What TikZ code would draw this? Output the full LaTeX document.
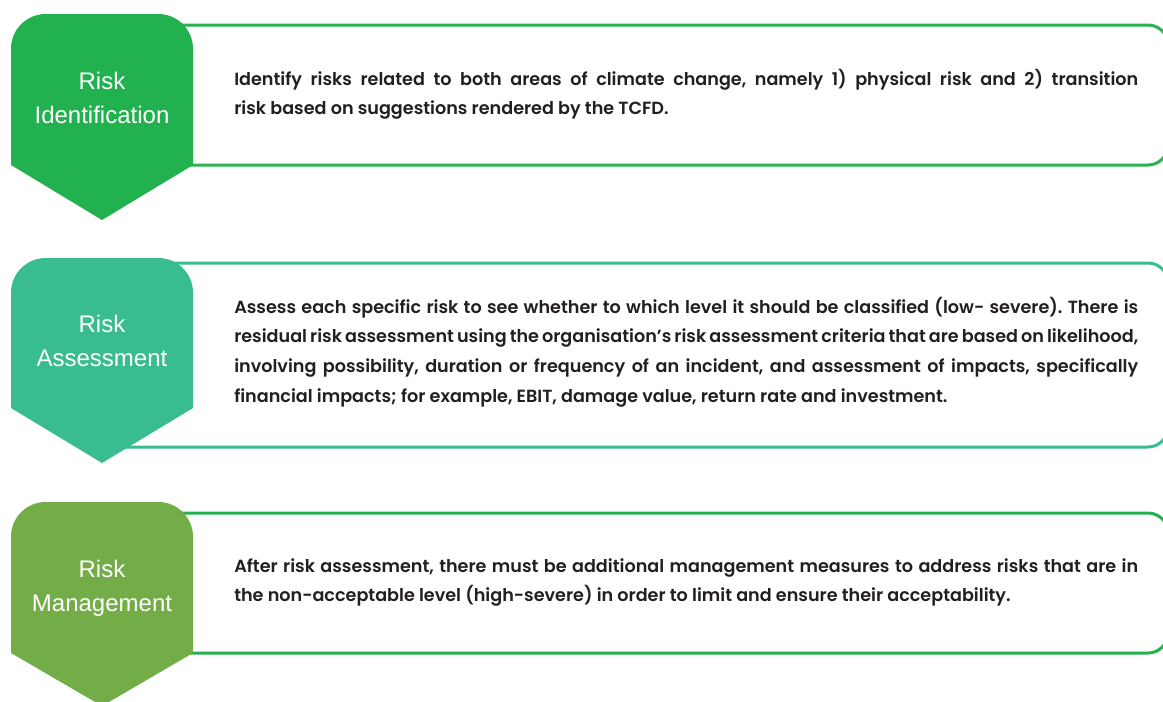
\documentclass[tikz,border=0pt]{standalone}
\usepackage{fontspec}
\usepackage{tikz}
\usetikzlibrary{positioning,calc}
\newfontfamily\headfont{Liberation Sans}
\newfontfamily\bodyfont{Poppins SemiBold}
\frenchspacing
\definecolor{greenid}{HTML}{21B14E}
\definecolor{greenidline}{HTML}{2BB24F}
\definecolor{tealassess}{HTML}{39BC8E}
\definecolor{olivemanage}{HTML}{72AD47}
\definecolor{greenmanageline}{HTML}{22B14C}
\definecolor{bodytext}{HTML}{231F20}
\tikzset{
  % Step banners (pentagon arrows)
  banner/.style={draw=none,fill=#1},
  % Description frames
  frame/.style={draw=#1,line width=2.25pt,fill=white},
  % Texts
  headlb/.style={anchor=base,inner sep=0pt,text=white,
                 font=\headfont\fontsize{18pt}{25.5pt}\selectfont},
  desclb/.style={anchor=base west,inner sep=0pt,text=bodytext,
                 font=\bodyfont\fontsize{13.2pt}{22.3pt}\selectfont}
}
\newcommand{\headtext}[1]{\parbox[t]{130pt}{\centering #1}}
\newcommand{\desctext}[1]{\parbox[t]{678pt}{#1}}

\begin{document}
\begin{tikzpicture}[x=0.75pt,y=-0.75pt]
  \useasboundingbox (0,0) rectangle (1163,701);

  % Row 1: identification
  \draw[frame=greenidline] (100,25) [rounded corners=15pt]-- (1168,25) -- (1168,165) [sharp corners]-- (100,165) -- cycle;
  \fill[banner=greenid] (11,165) [rounded corners=26pt]-- (11,14) -- (193,14) [sharp corners]-- (193,165) -- (102,220) -- cycle;
  \node[headlb] (headid) at (102,89) {\headtext{Risk\\Identification}};
  \node[desclb] (txtid) at (234,85) {\desctext{Identify risks related to both areas of climate change, namely 1) physical risk and 2) transition\linebreak risk based on suggestions rendered by the TCFD.}};

  % Row 2: assessment
  \draw[frame=tealassess] (100,263) [rounded corners=15pt]-- (1168,263) -- (1168,447) [sharp corners]-- (100,447) -- cycle;
  \fill[banner=tealassess] (11,408) [rounded corners=26pt]-- (11,258) -- (193,258) [sharp corners]-- (193,408) -- (102,463) -- cycle;
  \node[headlb] (headassess) at (102,332) {\headtext{Risk\\Assessment}};
  \node[desclb] (txtassess) at (234,313) {\desctext{Assess each specific risk to see whether to which level it should be classified (low- severe). There is\linebreak residual risk assessment using the organisation’s risk assessment criteria that are based on likelihood,\linebreak involving possibility, duration or frequency of an incident, and assessment of impacts, specifically\linebreak financial impacts; for example, EBIT, damage value, return rate and investment.}};

  % Row 3: management
  \draw[frame=greenmanageline] (100,513) [rounded corners=15pt]-- (1168,513) -- (1168,653) [sharp corners]-- (100,653) -- cycle;
  \fill[banner=olivemanage] (11,653) [rounded corners=26pt]-- (11,502) -- (193,502) [sharp corners]-- (193,653) -- (102,706) -- cycle;
  \node[headlb] (headmanage) at (102,577) {\headtext{Risk\\Management}};
  \node[desclb] (txtmanage) at (234,572) {\desctext{After risk assessment, there must be additional management measures to address risks that are in\linebreak the non-acceptable level (high-severe) in order to limit and ensure their acceptability.}};
\end{tikzpicture}
\end{document}
